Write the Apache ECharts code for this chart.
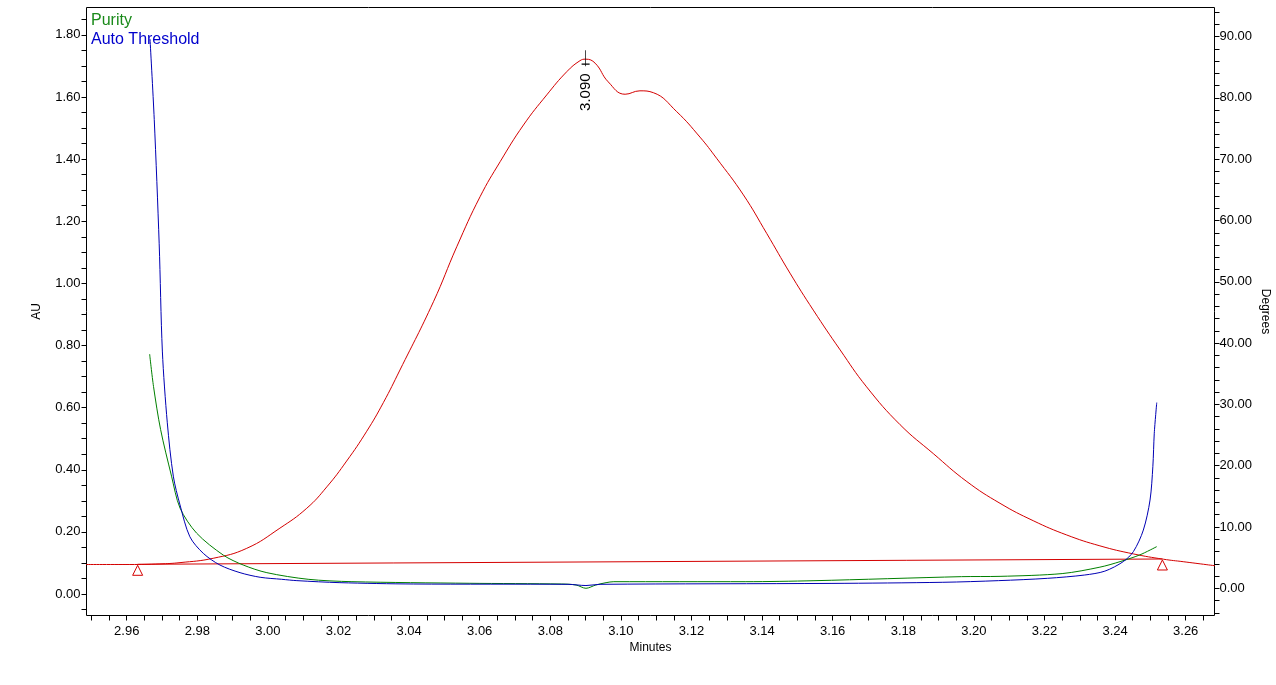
<!DOCTYPE html>
<html>
<head>
<meta charset="utf-8">
<script src="https://cdn.jsdelivr.net/npm/echarts@6/dist/echarts.min.js"></script>
<style>html,body{margin:0;padding:0;background:#fff;}#c{width:1276px;height:685px;}</style>
</head>
<body>
<div id="c"></div>
<script>
// ---------------- data ----------------
const chromTime = [2.9480, 2.9609, 2.9694, 2.9751, 2.9845, 2.9940, 3.0034, 3.0110, 3.0167, 3.0223, 3.0280, 3.0327,
  3.0374, 3.0469, 3.0535, 3.0601, 3.0658, 3.0724, 3.0790, 3.0847, 3.0884, 3.0900, 3.0927, 3.0964, 3.1012, 3.1054,
  3.1092, 3.1158, 3.1224, 3.1271, 3.1347, 3.1413, 3.1479, 3.1545, 3.1621, 3.1696, 3.1791, 3.1885, 3.1980, 3.2074,
  3.2168, 3.2263, 3.2357, 3.2452, 3.2537, 3.2593, 3.2690];
const chromAU = [0.095, 0.095, 0.097, 0.101, 0.115, 0.147, 0.212, 0.276, 0.345, 0.428, 0.524, 0.616,
  0.721, 0.941, 1.118, 1.279, 1.392, 1.510, 1.607, 1.682, 1.717, 1.722, 1.709, 1.649, 1.609, 1.620,
  1.614, 1.553, 1.471, 1.403, 1.285, 1.161, 1.033, 0.914, 0.786, 0.667, 0.545, 0.452, 0.362, 0.292,
  0.236, 0.190, 0.155, 0.129, 0.112, 0.104, 0.090];

const baseTime = [2.9631, 3.2534];
const baseAU = [0.0956, 0.1127];

const purityTime = [2.9665, 2.9676, 2.9696, 2.9727, 2.9751, 2.9798, 2.9874, 2.9930, 2.9997, 3.0114, 3.0238, 3.0570,
  3.0832, 3.0873, 3.0901, 3.0929, 3.0958, 3.0980, 3.1354, 3.1547, 3.1965, 3.2074, 3.2250, 3.2357, 3.2414, 3.2470, 3.2518];
const purityDeg = [38.2, 32.9, 25.9, 18.3, 13.1, 9.0, 5.4, 3.8, 2.55, 1.47, 1.08, 0.82,
  0.70, 0.54, 0.0, 0.54, 0.92, 1.08, 1.08, 1.24, 1.90, 1.95, 2.40, 3.45, 4.35, 5.45, 6.8];

const threshTime = [2.9666, 2.9678, 2.9692, 2.9701, 2.9715, 2.9732, 2.9751, 2.9779, 2.9817, 2.9864, 2.9921, 2.9978,
  3.0039, 3.0082, 3.0204, 3.0413, 3.0850, 3.0901, 3.0941, 3.1598, 3.1912, 3.2070, 3.2209, 3.2314, 3.2371, 3.2423,
  3.2452, 3.2480, 3.2499, 3.2507, 3.2511, 3.2518];
const threshDeg = [89.6, 76.5, 56.2, 38.7, 27.0, 18.3, 13.6, 8.4, 5.7, 3.8, 2.55, 1.8,
  1.47, 1.25, 0.92, 0.70, 0.65, 0.45, 0.65, 0.80, 0.98, 1.25, 1.63, 2.17, 2.8, 4.35,
  6.0, 9.5, 14.4, 19.9, 25.3, 30.3];

const peakTime = 3.090;
const peakAU = 1.722;
const peakLabel = '3.090';

const xTickLabels = ['2.96', '2.98', '3.00', '3.02', '3.04', '3.06', '3.08', '3.10', '3.12', '3.14', '3.16', '3.18', '3.20', '3.22', '3.24', '3.26'];
const auTickLabels = ['0.00', '0.20', '0.40', '0.60', '0.80', '1.00', '1.20', '1.40', '1.60', '1.80'];
const degTickLabels = ['0.00', '10.00', '20.00', '30.00', '40.00', '50.00', '60.00', '70.00', '80.00', '90.00'];

// ---------------- layout ----------------
const W = 1276, H = 685;
const G = { left: 86.5, right: 61.5, top: 7.5, bottom: 69.5 };
const plotW = W - G.left - G.right;
const plotH = H - G.top - G.bottom;
const X_MIN = 2.94861, X_MAX = 3.26816;
const AU_MIN = -0.06922, AU_MAX = 1.88828;
const DEG_MIN = -4.437, DEG_MAX = 94.75;
const FONT = '"Liberation Sans", Arial, sans-serif';

function xPix(t) { return G.left + (t - X_MIN) / (X_MAX - X_MIN) * plotW; }
function auPix(v) { return G.top + (AU_MAX - v) / (AU_MAX - AU_MIN) * plotH; }
function degPix(v) { return G.top + (DEG_MAX - v) / (DEG_MAX - DEG_MIN) * plotH; }

function labelFmt(list) {
  return function (v) {
    for (const s of list) { if (Math.abs(parseFloat(s) - v) < 1e-6) return s; }
    return '';
  };
}
const pairs = (a, b) => a.map((t, i) => [t, b[i]]);

const RED = '#d40000', GREEN = '#008000', BLUE = '#0000b4';
const tickStyle = { show: true, inside: false, length: 5, lineStyle: { color: '#000', width: 1 } };
const lblStyle = { color: '#000', fontSize: 13, fontFamily: FONT };
const hidden = { show: false, min: 0, max: 1 };

const chart = echarts.init(document.getElementById('c'), null, { renderer: 'canvas' });
chart.setOption({
  animation: false,
  backgroundColor: '#fff',
  textStyle: { fontFamily: FONT },
  legend: {
    data: [
      { name: 'Purity', textStyle: { color: '#1a8a1a' } },
      { name: 'Auto Threshold', textStyle: { color: '#0000cc' } }
    ],
    orient: 'vertical', left: 86, top: 13, padding: 0,
    icon: 'none', itemWidth: 0, itemHeight: 16, itemGap: 3,
    selectedMode: false,
    textStyle: { fontSize: 16, fontFamily: FONT }
  },
  grid: [
    { left: G.left, right: G.right, top: G.top, bottom: G.bottom, show: true, borderColor: '#000', borderWidth: 1, backgroundColor: 'transparent', containLabel: false, outerBoundsMode: 'none' },
    { left: xPix(2.95), right: W - xPix(3.265), top: G.top, bottom: G.bottom, containLabel: false, outerBoundsMode: 'none' },
    { left: G.left, right: G.right, top: auPix(1.85), bottom: H - auPix(-0.05), containLabel: false, outerBoundsMode: 'none' },
    { left: G.left, right: G.right, top: degPix(94), bottom: H - degPix(-4), containLabel: false, outerBoundsMode: 'none' }
  ],
  xAxis: [
    { type: 'value', gridIndex: 0, min: X_MIN, max: X_MAX, axisLine: { show: false }, axisTick: { show: false }, axisLabel: { show: false }, splitLine: { show: false },
      name: 'Minutes', nameLocation: 'middle', nameGap: 26, nameTextStyle: { color: '#000', fontSize: 12, fontFamily: FONT } },
    { type: 'value', gridIndex: 1, min: 2.95, max: 3.265, interval: 0.005, axisLine: { show: false, onZero: false }, axisTick: tickStyle,
      axisLabel: Object.assign({ margin: 9, formatter: labelFmt(xTickLabels), showMinLabel: true, showMaxLabel: true }, lblStyle), splitLine: { show: false } },
    Object.assign({ type: 'value', gridIndex: 2 }, hidden),
    Object.assign({ type: 'value', gridIndex: 3 }, hidden)
  ],
  yAxis: [
    { type: 'value', gridIndex: 0, position: 'left', min: AU_MIN, max: AU_MAX, axisLine: { show: false }, axisTick: { show: false }, axisLabel: { show: false }, splitLine: { show: false },
      name: 'AU', nameLocation: 'middle', nameGap: 44, nameRotate: 90, nameTextStyle: { color: '#000', fontSize: 12, fontFamily: FONT } },
    { type: 'value', gridIndex: 0, position: 'right', min: DEG_MIN, max: DEG_MAX, axisLine: { show: false }, axisTick: { show: false }, axisLabel: { show: false }, splitLine: { show: false },
      name: 'Degrees', nameLocation: 'middle', nameGap: 45, nameRotate: -90, nameTextStyle: { color: '#000', fontSize: 12, fontFamily: FONT } },
    Object.assign({ type: 'value', gridIndex: 1 }, hidden),
    { type: 'value', gridIndex: 2, position: 'left', min: -0.05, max: 1.85, interval: 0.05, axisLine: { show: false, onZero: false }, axisTick: tickStyle,
      axisLabel: Object.assign({ margin: 6, formatter: labelFmt(auTickLabels) }, lblStyle), splitLine: { show: false } },
    { type: 'value', gridIndex: 3, position: 'right', min: -4, max: 94, interval: 2, axisLine: { show: false, onZero: false }, axisTick: tickStyle,
      axisLabel: Object.assign({ margin: 5, formatter: labelFmt(degTickLabels) }, lblStyle), splitLine: { show: false } }
  ],
  series: [
    {
      name: 'Chromatogram', type: 'line', xAxisIndex: 0, yAxisIndex: 0,
      data: pairs(chromTime, chromAU), showSymbol: false, symbol: 'none', smooth: 0.45,
      lineStyle: { color: RED, width: 1 }, itemStyle: { color: RED }, silent: true, z: 3,
      markPoint: {
        silent: true,
        data: [
          { coord: [peakTime, peakAU], symbol: 'path://M4,0L4,16M0,14L8,14', symbolSize: [8, 16], symbolOffset: [0, -1],
            itemStyle: { color: 'rgba(0,0,0,0)', borderColor: '#000', borderWidth: 1 }, label: { show: false } },
          { coord: [peakTime, peakAU], symbol: 'circle', symbolSize: 1, itemStyle: { color: 'rgba(0,0,0,0)' },
            label: { show: true, formatter: peakLabel, rotate: 90, offset: [-33, 0], color: '#000', fontSize: 15, fontFamily: FONT } }
        ]
      }
    },
    {
      name: 'Baseline', type: 'line', xAxisIndex: 0, yAxisIndex: 0,
      data: pairs(baseTime, baseAU), showSymbol: true, symbol: 'triangle', symbolSize: [10, 10], symbolOffset: [0, 6],
      lineStyle: { color: RED, width: 1 }, itemStyle: { color: '#fff', borderColor: RED, borderWidth: 1 }, silent: true, z: 2
    },
    {
      name: 'Purity', type: 'line', xAxisIndex: 0, yAxisIndex: 1,
      data: pairs(purityTime, purityDeg), showSymbol: false, symbol: 'none', smooth: 0.3,
      lineStyle: { color: GREEN, width: 1 }, itemStyle: { color: GREEN }, silent: true, z: 4
    },
    {
      name: 'Auto Threshold', type: 'line', xAxisIndex: 0, yAxisIndex: 1,
      data: pairs(threshTime, threshDeg), showSymbol: false, symbol: 'none', smooth: 0.3,
      lineStyle: { color: BLUE, width: 1 }, itemStyle: { color: BLUE }, silent: true, z: 5
    }
  ]
});
</script>
</body>
</html>
